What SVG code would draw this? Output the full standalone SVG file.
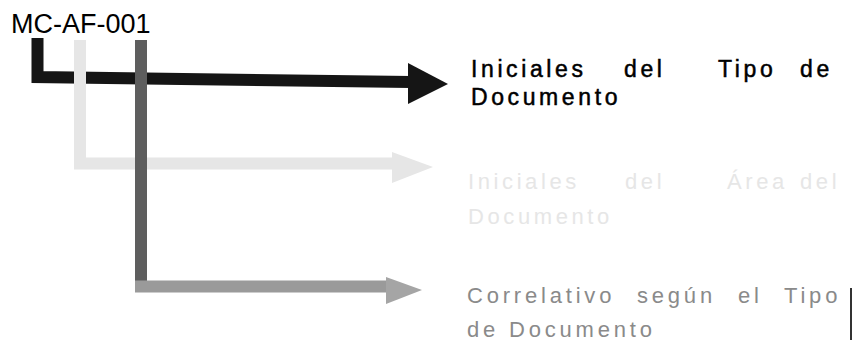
<svg xmlns="http://www.w3.org/2000/svg" width="853" height="344" viewBox="0 0 853 344">
<style>
.code{font-family:"Liberation Sans",Arial,sans-serif;font-size:27px;fill:#000}
.t1{font-family:"Liberation Sans",Arial,sans-serif;font-size:23px;letter-spacing:3.6px;fill:#000;stroke:#000;stroke-width:0.5px}
.t2{font-family:"Liberation Sans",Arial,sans-serif;font-size:22px;letter-spacing:3.6px;fill:#e6e6e6}
.t3{font-family:"Liberation Sans",Arial,sans-serif;font-size:22px;letter-spacing:3.8px;fill:#8a8a8a}
.ln{fill:none;stroke-linejoin:miter}
</style>
<rect width="853" height="344" fill="#fff"/>
<g id="code-label"><text class="code" x="11" y="33">MC-AF-001</text></g>
<g id="connectors">
<path class="ln" d="M37.5,38 V77 L411,82" stroke="#151515" stroke-width="12"/>
<polygon points="408,63 448,84 408,104" fill="#151515"/>
<path class="ln" d="M80,40 V163.5 H395" stroke="#e6e6e6" stroke-width="12"/>
<polygon points="392,152 433,167 392,183" fill="#e6e6e6"/>
<path class="ln" d="M141,40 V286.5" stroke="#5e5e5e" stroke-width="12"/>
<path class="ln" d="M135,286.5 H389" stroke="#9a9a9a" stroke-width="12"/>
<polygon points="386,277 422,290 386,304" fill="#a5a5a5"/>
</g>
<g id="node-tipo">
<text class="t1" y="77"><tspan x="471">Iniciales</tspan><tspan x="624">del</tspan><tspan x="718">Tipo</tspan><tspan x="800">de</tspan></text>
<text class="t1" x="471" y="105" letter-spacing="4.2">Documento</text>
</g>
<g id="node-area">
<text class="t2" y="189"><tspan x="468">Iniciales</tspan><tspan x="625">del</tspan><tspan x="727">Área</tspan><tspan x="800">del</tspan></text>
<text class="t2" x="468" y="224">Documento</text>
</g>
<g id="node-correlativo">
<text class="t3" y="303"><tspan x="467">Correlativo</tspan><tspan x="637">según</tspan><tspan x="738">el</tspan><tspan x="784">Tipo</tspan></text>
<text class="t3" x="467" y="337">de Documento</text>
<rect x="850" y="288" width="2" height="52" fill="#333"/>
</g>
</svg>
